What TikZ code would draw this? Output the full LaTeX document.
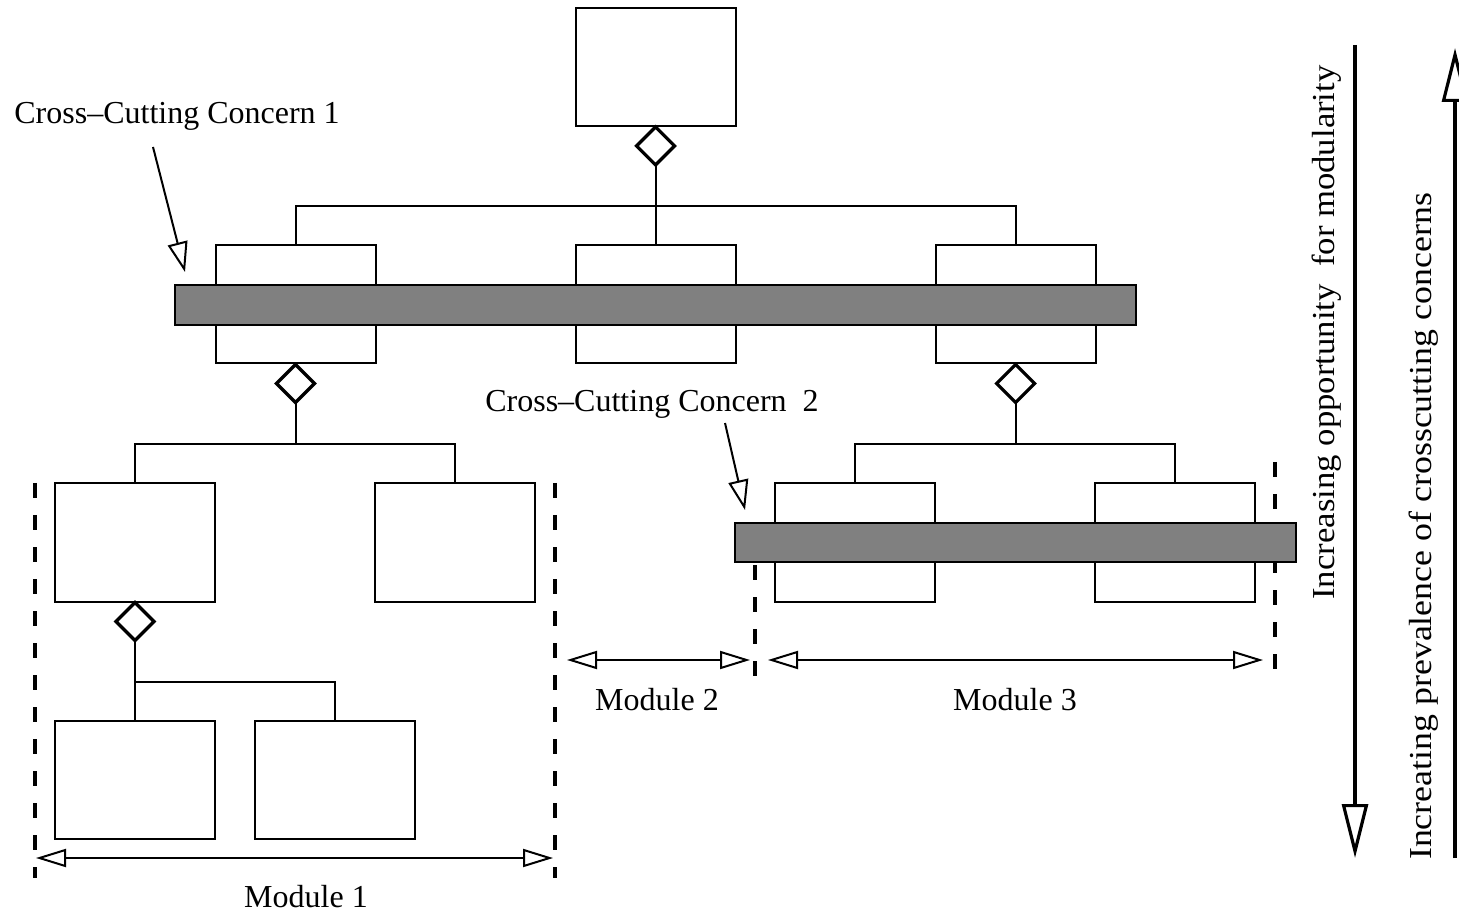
\documentclass[tikz,border=0pt]{standalone}
\usepackage{fontspec}
\setmainfont{Liberation Serif}
\usetikzlibrary{arrows.meta,shapes.geometric}
\definecolor{barfill}{RGB}{128,128,128}
\begin{document}
\begin{tikzpicture}[x=0.5pt,y=-0.5pt,
  box/.style={draw,line width=1pt,minimum width=80pt,minimum height=59pt,inner sep=0pt},
  agg/.style={draw,diamond,fill=white,line width=1.6pt,minimum width=19pt,minimum height=19pt,inner sep=0pt,outer sep=0pt},
  link/.style={line width=1pt},
  bar/.style={draw,line width=1pt,fill=barfill,inner sep=0pt},
  bound/.style={line width=1.6pt,dash pattern=on 7.5pt off 8.5pt},
  span/.style={line width=0.8pt,{Triangle[open,length=15pt,width=9pt,line width=1pt]}-{Triangle[open,length=15pt,width=9pt,line width=1pt]}},
  pointer/.style={line width=1pt,-{Triangle[open,length=15pt,width=10pt,line width=1pt]}},
  axis/.style={line width=1.6pt,-{Triangle[open,length=27pt,width=13pt,line width=1.6pt]}},
  lbl/.style={font=\fontsize{16}{18}\selectfont,inner sep=0pt}
]
\useasboundingbox (0,0) rectangle (1459,913);

% class boxes
\node[box] (top) at (655.5,67) {};
\node[box] (l2) at (295.5,304.5) {};
\node[box] (m2) at (655.5,304.5) {};
\node[box] (r2) at (1015.5,304.5) {};
\node[box] (l3a) at (135,542.5) {};
\node[box] (l3b) at (455,542.5) {};
\node[box] (r3a) at (855,542.5) {};
\node[box] (r3b) at (1175,542.5) {};
\node[box] (l4a) at (135,779.5) {};
\node[box] (l4b) at (335,779.5) {};

% aggregation diamonds
\node[agg,anchor=north] (dtop) at (top.south) {};
\node[agg,anchor=north] (dl2) at (l2.south) {};
\node[agg,anchor=north] (dr2) at (r2.south) {};
\node[agg,anchor=north] (dl3) at (l3a.south) {};

% tree connectors
\coordinate (j1) at (655.5,206);
\draw[link] (dtop.south) -- (m2.north);
\draw[link] (l2.north) |- (j1) -| (r2.north);
\coordinate (j2) at (295.5,444);
\draw[link] (dl2.south) -- (j2);
\draw[link] (l3a.north) |- (j2) -| (l3b.north);
\coordinate (j3) at (1015.5,444);
\draw[link] (dr2.south) -- (j3);
\draw[link] (r3a.north) |- (j3) -| (r3b.north);
\coordinate (j4) at (135,682);
\draw[link] (dl3.south) -- (j4);
\draw[link] (l4a.north) |- (j4) -| (l4b.north);

% module boundaries (behind the concern bars)
\coordinate (b1t) at (35,483);  \coordinate (b1b) at (35,878);
\coordinate (b2t) at (555,483); \coordinate (b2b) at (555,878);
\coordinate (b3t) at (755,565); \coordinate (b3b) at (755,680);
\coordinate (b4t) at (1275,462); \coordinate (b4b) at (1275,680);
\draw[bound] (b1t) -- (b1b);
\draw[bound] (b2t) -- (b2b);
\draw[bound] (b3t) -- (b3b);
\draw[bound] (b4t) -- (b4b);

% cross-cutting concern bars
\node[bar,minimum width=480.5pt,minimum height=20pt] (cc1) at (655.5,305) {};
\node[bar,minimum width=280.5pt,minimum height=19.5pt] (cc2) at (1015.5,542.5) {};

% concern labels and pointers
\node[lbl,anchor=west] (cc1lbl) at (14,116) {Cross–Cutting Concern 1};
\node[lbl] (cc2lbl) at (652,404) {Cross–Cutting Concern\ \ 2};
\coordinate (p1s) at (153,147);
\coordinate (p1e) at (185,272);
\draw[pointer] (p1s) -- (p1e);
\coordinate (p2s) at (725,423);
\coordinate (p2e) at (745,510);
\draw[pointer] (p2s) -- (p2e);

% module extents
\coordinate (m1a) at (36,858);  \coordinate (m1b) at (553,858);
\coordinate (m2a) at (567,660); \coordinate (m2b) at (750,660);
\coordinate (m3a) at (768,660); \coordinate (m3b) at (1263,660);
\draw[span] (m1a) -- (m1b);
\draw[span] (m2a) -- (m2b);
\draw[span] (m3a) -- (m3b);
\node[lbl] (mod1) at (306,897) {Module 1};
\node[lbl] (mod2) at (657,700) {Module 2};
\node[lbl] (mod3) at (1015,700) {Module 3};

% trend axes
\coordinate (a1s) at (1355,45);  \coordinate (a1e) at (1355,858);
\coordinate (a2s) at (1455,858); \coordinate (a2e) at (1455,48);
\draw[axis] (a1s) -- (a1e);
\draw[axis] (a2s) -- (a2e);
\node[lbl,rotate=90] (ax1) at (1327,332.5) {\scalebox{1.085}[1]{Increasing opportunity\ \ for modularity}};
\node[lbl,rotate=90] (ax2) at (1424,526.5) {\scalebox{1.12}[1]{Increating prevalence of crosscutting concerns}};
\end{tikzpicture}
\end{document}
